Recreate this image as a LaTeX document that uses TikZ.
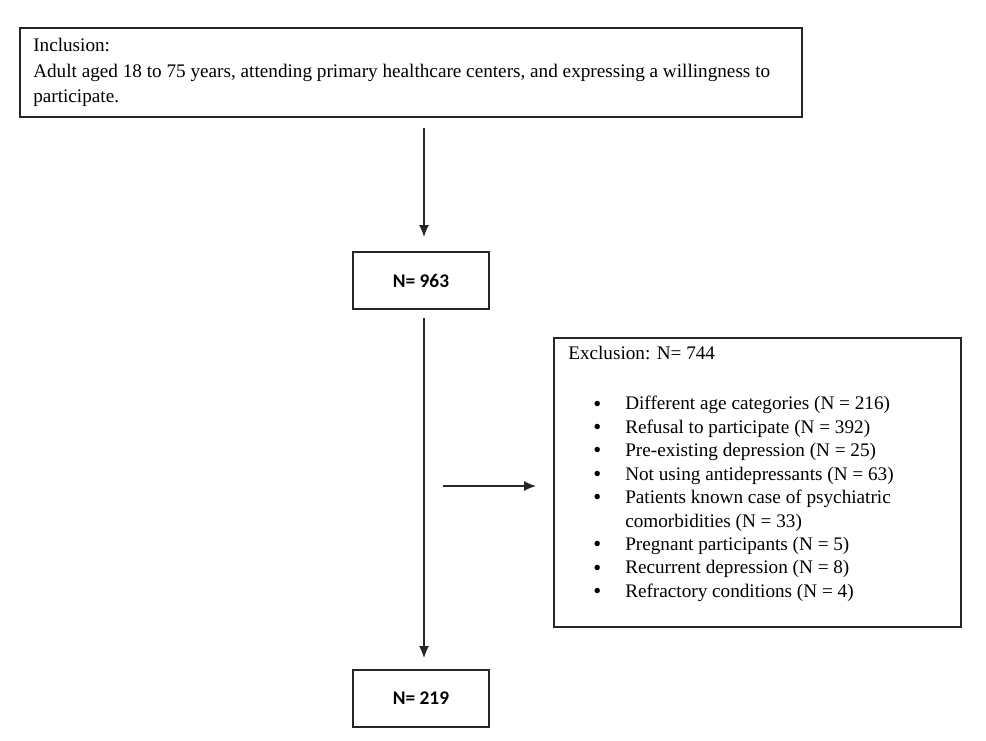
\documentclass[tikz,border=0pt]{standalone}
\usepackage{fontspec}
\setmainfont{Liberation Serif}
\newfontfamily\calib{Carlito}
\usetikzlibrary{arrows.meta}
\newcommand{\bigbul}{\raisebox{-0.15ex}{\fontsize{17}{17}\selectfont\textbullet}}
\begin{document}
\begin{tikzpicture}[x=0.75pt,y=-0.75pt,
  box/.style={draw=black!85,line width=1pt,inner sep=0pt},
  nbox/.style={box,minimum width=102pt,minimum height=42.75pt,font=\calib\bfseries\fontsize{14.5}{16}\selectfont},
  arr/.style={line width=0.9pt,draw=black!85,-{Latex[length=9pt,width=7.5pt]}},
  txt/.style={inner sep=0pt,align=left,font=\fontsize{14.4}{19.2}\selectfont}]
\useasboundingbox (0,0) rectangle (986,740);
\node[box,minimum width=586.5pt,minimum height=66.75pt] (inc) at (411,72.5) {};
\node[txt,anchor=north west] (inctext) at (33,38) {Inclusion:\\Adult aged 18 to 75 years, attending primary healthcare centers, and expressing a willingness to\\participate.};
\node[nbox] (n1) at (421,280.5) {N= 963};
\node[nbox] (n2) at (421,698.5) {N= 219};
\node[box,minimum width=305.25pt,minimum height=216.75pt] (exc) at (757.5,482.5) {};
\node[txt,anchor=north west] (exctitle) at (568,346) {Exclusion: N= 744};
\node[txt,anchor=north west,font=\fontsize{14.4}{17.6}\selectfont] (exclist) at (593,393) {%
\begin{tabular}{@{}p{24pt}@{}l@{}}
\bigbul & Different age categories (N = 216)\\
\bigbul & Refusal to participate (N = 392)\\
\bigbul & Pre-existing depression (N = 25)\\
\bigbul & Not using antidepressants (N = 63)\\
\bigbul & Patients known case of psychiatric\\
 & comorbidities (N = 33)\\
\bigbul & Pregnant participants (N = 5)\\
\bigbul & Recurrent depression (N = 8)\\
\bigbul & Refractory conditions (N = 4)
\end{tabular}};
\coordinate (a1s) at (424,128);
\coordinate (a1e) at (424,237);
\coordinate (a2s) at (424,318);
\coordinate (a2e) at (424,658);
\coordinate (hs) at (443,486);
\coordinate (he) at (536,486);
\draw[arr] (a1s) -- (a1e);
\draw[arr] (a2s) -- (a2e);
\draw[arr] (hs) -- (he);
\end{tikzpicture}
\end{document}
